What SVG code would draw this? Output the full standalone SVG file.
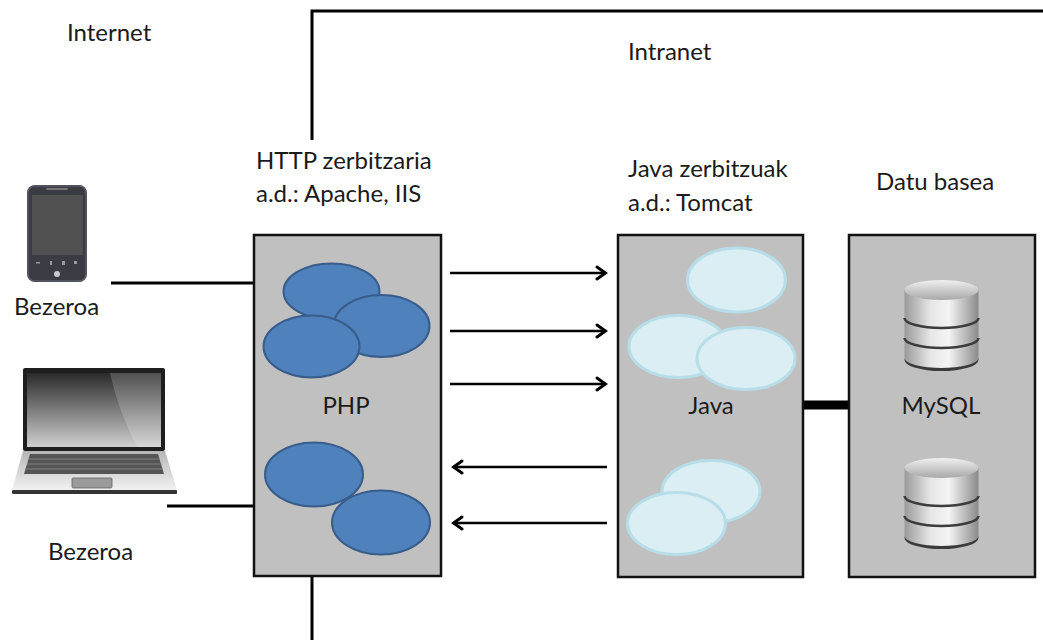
<svg xmlns="http://www.w3.org/2000/svg" width="1043" height="640" viewBox="0 0 1043 640">
  <style>
    text { font-family: Lato, "Open Sans", sans-serif; font-size: 24px; fill: #1a1a1a; }
    .mid { text-anchor: middle; }
    .box { fill: #c0c0c0; stroke: #111; stroke-width: 2.5; }
    .php { fill: #4f81bd; stroke: #385d8a; stroke-width: 2; }
    .jav { fill: #daeef3; stroke: #b7dee8; stroke-width: 3; }
    .ln { stroke: #000; stroke-width: 3; fill: none; }
    .arr { stroke: #000; stroke-width: 2.5; fill: none; marker-end: url(#head); }
  </style>
  <defs>
    <marker id="head" viewBox="-12 -8 14 16" refX="0" refY="0" markerWidth="14" markerHeight="16" markerUnits="userSpaceOnUse" orient="auto">
      <path d="M-9,-6 L-0.5,0 L-9,6" fill="none" stroke="#000" stroke-width="3" stroke-linecap="round" stroke-linejoin="miter"/>
    </marker>
    <linearGradient id="screen" x1="0" y1="0" x2="0" y2="1">
      <stop offset="0" stop-color="#2a2a2a"/>
      <stop offset="1" stop-color="#cfcfcf"/>
    </linearGradient>
    <linearGradient id="base" x1="0" y1="0" x2="0" y2="1">
      <stop offset="0" stop-color="#b5b5b5"/>
      <stop offset="1" stop-color="#f2f2f2"/>
    </linearGradient>
    <linearGradient id="cyl" x1="0" y1="0" x2="1" y2="0">
      <stop offset="0" stop-color="#9a9a9a"/>
      <stop offset="0.35" stop-color="#e6e6e6"/>
      <stop offset="0.6" stop-color="#f4f4f4"/>
      <stop offset="1" stop-color="#8a8a8a"/>
    </linearGradient>
    <linearGradient id="cyltop" x1="0" y1="0" x2="0" y2="1">
      <stop offset="0" stop-color="#f0f0f0"/>
      <stop offset="1" stop-color="#a8a8a8"/>
    </linearGradient>
    <g id="db">
      <path d="M-37,-32 L-37,36 A37,10 0 0 0 37,36 L37,-32 Z" fill="url(#cyl)"/>
      <path d="M-37,36 A37,10 0 0 0 37,36 L37,38 A37,11 0 0 1 -37,38 Z" fill="#3a3a3a"/>
      <path d="M-37,-4 A37,10 0 0 0 37,-4" fill="none" stroke="#3c3c3c" stroke-width="2.5"/>
      <path d="M-37,16 A37,10 0 0 0 37,16" fill="none" stroke="#3c3c3c" stroke-width="2.5"/>
      <ellipse cx="0" cy="-32" rx="37" ry="10" fill="url(#cyltop)"/>
    </g>
  </defs>

  <!-- network zone border -->
  <g id="zones">
    <path class="ln" d="M312,140 L312,11 L1043,11"/>
    <path class="ln" d="M312,577 L312,640"/>
    <text x="67" y="41">Internet</text>
    <text x="628" y="60">Intranet</text>
  </g>

  <!-- connectors -->
  <g id="connectors">
    <line class="ln" x1="111" y1="283" x2="254" y2="283"/>
    <line class="ln" x1="167" y1="506" x2="254" y2="506"/>
    <line class="arr" x1="450" y1="273" x2="606" y2="273"/>
    <line class="arr" x1="450" y1="331" x2="606" y2="331"/>
    <line class="arr" x1="450" y1="384" x2="606" y2="384"/>
    <line class="arr" x1="607" y1="467" x2="453" y2="467"/>
    <line class="arr" x1="607" y1="523" x2="453" y2="523"/>
    <line stroke="#000" stroke-width="9" x1="803" y1="405" x2="849" y2="405"/>
  </g>

  <!-- mobile client -->
  <g id="phone">
    <rect x="27" y="185" width="60" height="97" rx="8" fill="#3b3b44"/>
    <rect x="28" y="186" width="58" height="95" rx="7" fill="none" stroke="#6a6a75" stroke-width="1"/>
    <rect x="46" y="188" width="22" height="2" rx="1" fill="#777"/>
    <rect x="32" y="195" width="51" height="60" fill="#505050"/>
    <g fill="#9a9aa5">
      <rect x="36" y="262" width="4" height="1.5"/>
      <rect x="50" y="261" width="2" height="4"/>
      <rect x="62" y="261" width="3" height="4"/>
      <rect x="74" y="261" width="3" height="3"/>
    </g>
    <circle cx="57" cy="274" r="3" fill="#c9c9d2"/>
    <text x="14" y="315">Bezeroa</text>
  </g>

  <!-- laptop client -->
  <g id="laptop">
    <rect x="23" y="368" width="142" height="83" rx="2" fill="#1e1e1e"/>
    <rect x="27" y="373" width="134" height="74" fill="url(#screen)"/>
    <path d="M110,373 L161,373 L161,447 L137,447 Q118,410 110,373 Z" fill="#ffffff" opacity="0.18"/>
    <path d="M23,451 L165,451 L177,490 L12,490 Z" fill="url(#base)"/>
    <path d="M30,454 L158,454 L164,474 L24,474 Z" fill="#555"/>
    <g stroke="#8a8a8a" stroke-width="0.8">
      <line x1="28" y1="459" x2="160" y2="459"/>
      <line x1="27" y1="464" x2="162" y2="464"/>
      <line x1="25" y1="469" x2="163" y2="469"/>
    </g>
    <rect x="72" y="478" width="40" height="10" rx="1" fill="#9a9a9a" stroke="#666" stroke-width="0.8"/>
    <rect x="12" y="490" width="165" height="4" rx="1" fill="#333"/>
    <text x="48" y="560">Bezeroa</text>
  </g>

  <!-- HTTP server -->
  <g id="http-server">
    <text x="256" y="169">HTTP zerbitzaria</text>
    <text x="256" y="202">a.d.: Apache, IIS</text>
    <rect class="box" x="254" y="235" width="187" height="341"/>
    <ellipse class="php" cx="331.5" cy="291.5" rx="48" ry="28"/>
    <ellipse class="php" cx="381.5" cy="326" rx="48" ry="31"/>
    <ellipse class="php" cx="311.5" cy="346.5" rx="48" ry="31"/>
    <ellipse class="php" cx="314" cy="474.5" rx="49" ry="32"/>
    <ellipse class="php" cx="381" cy="522.5" rx="49" ry="32"/>
    <text class="mid" x="346" y="414">PHP</text>
  </g>

  <!-- Java services -->
  <g id="java-server">
    <text x="628" y="177">Java zerbitzuak</text>
    <text x="628" y="211">a.d.: Tomcat</text>
    <rect class="box" x="618" y="235" width="185" height="342"/>
    <ellipse class="jav" cx="736.5" cy="280" rx="49" ry="32"/>
    <ellipse class="jav" cx="678" cy="346.5" rx="49" ry="31"/>
    <ellipse class="jav" cx="746" cy="358.5" rx="49" ry="31"/>
    <ellipse class="jav" cx="711" cy="491.5" rx="49" ry="31"/>
    <ellipse class="jav" cx="676.5" cy="523.5" rx="49" ry="31"/>
    <text class="mid" x="711" y="414">Java</text>
  </g>

  <!-- database -->
  <g id="database">
    <text x="876" y="190">Datu basea</text>
    <rect class="box" x="849" y="235" width="186" height="342"/>
    <use href="#db" x="941.5" y="322"/>
    <use href="#db" x="941.5" y="500"/>
    <text class="mid" x="941" y="414">MySQL</text>
  </g>
</svg>
